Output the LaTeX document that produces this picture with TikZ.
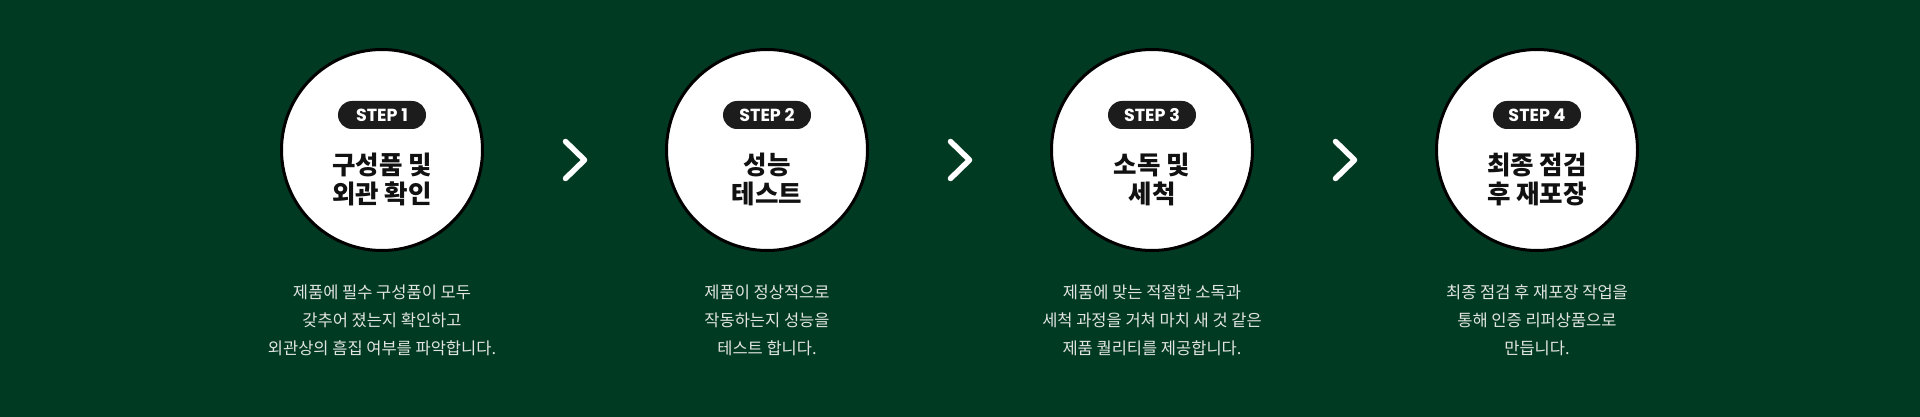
\documentclass[tikz,border=0pt]{standalone}
\usepackage{fontspec}
\usetikzlibrary{calc}
\setmainfont{Noto Sans CJK KR}
\newfontfamily\poppins{Poppins}
\definecolor{bggreen}{RGB}{1,58,34}
\definecolor{pillgray}{RGB}{28,28,28}
\definecolor{desctext}{RGB}{225,228,226}
\definecolor{titletext}{RGB}{17,17,17}
\tikzset{
  stepcircle/.style={circle, draw=black, line width=3pt, fill=white, minimum size=201pt, inner sep=0pt},
  steppill/.style={rounded corners=14pt, fill=pillgray, text=white, minimum width=88pt, minimum height=28pt, inner sep=0pt, font=\poppins\bfseries\fontsize{17.5}{20}\selectfont},
  steptitle/.style={text=titletext, align=center, inner sep=0pt, font=\bfseries\fontsize{25.5}{29}\selectfont},
  stepdesc/.style={text=desctext, align=center, inner sep=0pt, font=\fontsize{16.5}{28}\selectfont},
  chevron/.style={draw=white, line width=5.5pt, line cap=round, line join=round}
}
\begin{document}
\begin{tikzpicture}[x=1pt,y=-1pt]
\fill[bggreen] (0,0) rectangle (1920,417);
\useasboundingbox (0,0) rectangle (1920,417);
\foreach \i/\cx/\ttl/\dsc in {
  1/382/{구성품 및\\외관 확인}/{제품에 필수 구성품이 모두\\갖추어 졌는지 확인하고\\외관상의 흠집 여부를 파악합니다.},
  2/767/{성능\\테스트}/{제품이 정상적으로\\작동하는지 성능을\\테스트 합니다.},
  3/1152/{소독 및\\세척}/{제품에 맞는 적절한 소독과\\세척 과정을 거쳐 마치 새 것 같은\\제품 퀄리티를 제공합니다.},
  4/1537/{최종 점검\\후 재포장}/{최종 점검 후 재포장 작업을\\통해 인증 리퍼상품으로\\만듭니다.}}
{
  \node[stepcircle] (c\i) at (\cx,150) {};
  \node[steppill] (p\i) at (\cx,115) {STEP \i};
  \node[steptitle] (t\i) at (\cx,179) {\ttl};
  \node[stepdesc] (d\i) at (\cx,320) {\dsc};
}
\foreach \a/\b in {1/2,2/3,3/4}{
  \coordinate (ch\a) at ($(c\a)!0.5!(c\b)+(1,10)$);
  \draw[chevron] ([shift={(-10,-18.5)}]ch\a) -- ([shift={(9,0)}]ch\a) -- ([shift={(-10,18.5)}]ch\a);
}
\end{tikzpicture}
\end{document}
